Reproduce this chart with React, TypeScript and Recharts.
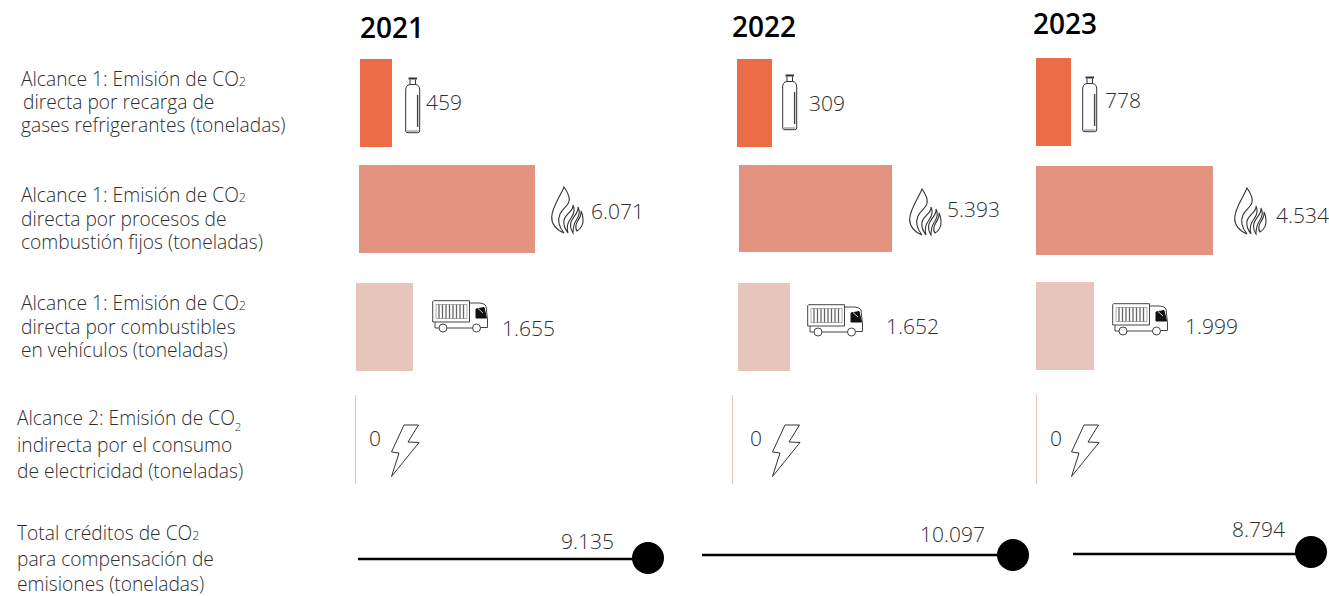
import { BarChart, Bar, LineChart, Line, XAxis, YAxis } from 'recharts';

const years = ['2021', '2022', '2023'];

// printed figures, tonnes
const refrigerantValues = [459, 309, 778];
const combustionValues = [6071, 5393, 4534];
const vehicleValues = [1655, 1652, 1999];
const electricityValues = [0, 0, 0];
const creditValues = [9135, 10097, 8794];

// The source infographic does not draw its bars in proportion to the printed
// figures (309 is longer than 459), so the lengths are read off the picture.
const refrigerantLengths = [32, 35, 35];
const combustionLengths = [176, 153, 177];
const vehicleLengths = [57, 52, 58];
const electricityLengths = [0, 0, 0];
const creditLengths = [290, 311, 238];

const FONT = '"Open Sans", sans-serif';
const TEXT = '#2e2e2e';
const LENGTH_DOMAIN = 340;

const rowColors = ['#eb6d48', '#e49381', '#e8c5bb', '#e8c5bb'];
const rowValues = [refrigerantValues, combustionValues, vehicleValues, electricityValues];
const rowLengths = [refrigerantLengths, combustionLengths, vehicleLengths, electricityLengths];

// hand placed layout, one entry per year
const titlePos = [[360, 27], [732, 26], [1033, 23]];
const barPos = [
  [[360, 59], [359, 165], [356, 283], [355, 395]],
  [[737, 59], [739, 165], [738, 283], [732, 395]],
  [[1036, 58], [1036, 166], [1036, 282], [1036, 394]],
];
const barHeights = [
  [88, 88, 88, 89],
  [88, 87, 88, 89],
  [88, 89, 88, 90],
];
const valuePos = [
  [[426, 102], [591, 211], [502, 328], [369, 438]],
  [[809, 103], [947, 209], [886, 326], [750, 438]],
  [[1105, 100], [1276, 215], [1185, 326], [1050, 438]],
];
const iconPos = [
  [[405, 77], [551, 187], [432, 300], [391, 424]],
  [[782, 74], [909, 189], [807, 304], [772, 424]],
  [[1082, 76], [1234, 188], [1112, 303], [1071, 424]],
];
const creditPos = [[358, 559], [702, 555], [1073, 554]];
const creditDotShift = [-1, 0, -2];
const creditLabelPos = [[614, 541], [985, 534], [1285, 529]];

const formatValue = (v: number) => String(v).replace(/\B(?=(\d{3})+$)/g, '.');

const CylinderIcon = () => (
  <svg width={16} height={58} style={{ display: 'block', overflow: 'visible' }}>
    <path d="M3.5 1.5H12" stroke="#333" strokeWidth={2} fill="none" />
    <path d="M5 2.5V8M10.5 2.5V8" stroke="#333" strokeWidth={1} fill="none" />
    <path
      d="M0.7 13Q0.7 8 5 7.5H10.5Q14.7 8 14.7 13V54Q14.7 55.7 12.5 55.7H3Q0.7 55.7 0.7 54Z"
      stroke="#333"
      strokeWidth={1}
      fill="#fff"
    />
    <path d="M12.6 18V50" stroke="#444" strokeWidth={1.4} />
    <path d="M2 54H13.5" stroke="#555" strokeWidth={0.8} />
  </svg>
);

const FlameIcon = () => (
  <svg width={33} height={47} fill="none" stroke="#333" strokeWidth={1.1} style={{ display: 'block', overflow: 'visible' }}>
    <path d="M13 0C9 10 1 20 0.7 30C0.5 38 6 43 13 46C8 40 6 34 9 27C12 20 20 18 18 10C17 6 15 3 13 0Z" />
    <path d="M22 18C23 24 15 26 13 33C12 38 14 42 17 46C15 40 17 35 20 31C23 27 24 22 22 18Z" />
    <path d="M27 20C28 26 22 29 20 35C19 39 20 43 22 46C22 41 23 36 26 32C28 29 29 24 27 20Z" />
    <path d="M30 24C31 30 26 33 25 38C24.5 41 25 43 26 44C30 42 32.5 37 32 32C32 29 31 26 30 24Z" />
  </svg>
);

const TruckIcon = () => (
  <svg width={57} height={33} fill="none" stroke="#444" strokeWidth={1} style={{ display: 'block', overflow: 'visible' }}>
    <path d="M1.5 0.7H37.5V22H0.7V1.5Z" />
    <path d="M4 4.5H35V18.5H4Z" strokeWidth={0.6} stroke="#777" />
    {[7, 10.5, 14, 17.5, 21, 24.5, 28, 31.5].map(x => (
      <path key={x} d={`M${x} 4.5V18.5`} strokeWidth={1.3} stroke="#666" />
    ))}
    <path d="M37.5 3H48Q53 3.5 54 6L55.5 20V27.5H49" />
    <path d="M44 9L52 7.5L54.5 18H44Z" fill="#111" stroke="#111" />
    <path d="M46 8.5L51 13" stroke="#fff" strokeWidth={0.8} />
    <path d="M3 22V28H7M15 28H40M49 28H40" />
    <circle cx={11} cy={28} r={4} fill="#fff" />
    <circle cx={44.5} cy={28} r={4} fill="#fff" />
  </svg>
);

const BoltIcon = () => (
  <svg width={29} height={54} fill="none" stroke="#333" strokeWidth={1} style={{ display: 'block', overflow: 'visible' }}>
    <path d="M13 1H27.5L17 18L28 18.5L0.5 52.5L8 29L0.5 28Z" strokeLinejoin="miter" />
  </svg>
);

const rowIcons = [CylinderIcon, FlameIcon, TruckIcon, BoltIcon];

const rowLabels = [
  { x: 21, top: 67, leading: 23, indent: 2, lines: ['Alcance 1: Emisión de CO', 'directa por recarga de', 'gases refrigerantes (toneladas)'], sub: 'small' },
  { x: 21, top: 183, leading: 23.5, indent: 0, lines: ['Alcance 1: Emisión de CO', 'directa por procesos de', 'combustión fijos (toneladas)'], sub: 'small' },
  { x: 21, top: 291, leading: 23.5, indent: 0, lines: ['Alcance 1: Emisión de CO', 'directa por combustibles', 'en vehículos (toneladas)'], sub: 'small' },
  { x: 17, top: 405, leading: 26.5, indent: 0, lines: ['Alcance 2: Emisión de CO', 'indirecta por el consumo', 'de electricidad (toneladas)'], sub: 'low' },
  { x: 17, top: 520, leading: 25.5, indent: 0, lines: ['Total créditos de CO', 'para compensación de', 'emisiones (toneladas)'], sub: 'small' },
];

const textAt = (x: number, cy: number, size: number, box: number): React.CSSProperties => ({
  position: 'absolute',
  left: x,
  top: cy - box / 2,
  height: box,
  lineHeight: `${box}px`,
  fontFamily: FONT,
  fontSize: size,
  whiteSpace: 'nowrap',
  color: TEXT,
});

function BarCell({ length, color, height }: { length: number; color: string; height: number }) {
  return (
    <BarChart
      width={LENGTH_DOMAIN}
      height={height}
      layout="vertical"
      data={[{ name: 'row', length }]}
      margin={{ top: 0, right: 0, bottom: 0, left: 0 }}
      barCategoryGap={0}
    >
      <XAxis type="number" domain={[0, LENGTH_DOMAIN]} hide />
      <YAxis type="category" dataKey="name" hide />
      <Bar dataKey="length" fill={color} minPointSize={1} isAnimationActive={false} />
    </BarChart>
  );
}

const CreditDot = (props: { cx?: number; cy?: number; index?: number; shift?: number }) => {
  const { cx, cy = 0, index, shift = 0 } = props;
  if (index !== 1) return <g key={index} />;
  return <circle key={index} cx={cx} cy={cy + shift} r={16} fill="#000" />;
};

function CreditCell({ length, shift }: { length: number; shift: number }) {
  return (
    <LineChart
      width={LENGTH_DOMAIN}
      height={40}
      data={[{ x: 0, y: 0 }, { x: length, y: 0 }]}
      margin={{ top: 0, right: 0, bottom: 0, left: 0 }}
    >
      <XAxis type="number" dataKey="x" domain={[0, LENGTH_DOMAIN]} hide />
      <YAxis type="number" domain={[-1, 1]} hide />
      <Line dataKey="y" stroke="#000" strokeWidth={2.5} dot={<CreditDot shift={shift} />} isAnimationActive={false} />
    </LineChart>
  );
}

export default function App() {
  return (
    <div style={{ position: 'absolute', left: 0, top: 0, width: 1329, height: 596, background: '#fff', overflow: 'hidden' }}>
      {rowLabels.map((row, r) => (
        <div
          key={r}
          style={{
            position: 'absolute',
            left: row.x,
            top: row.top,
            fontFamily: FONT,
            fontSize: 19.2,
            fontWeight: 300,
            lineHeight: `${row.leading}px`,
            whiteSpace: 'nowrap',
            color: TEXT,
          }}
        >
          {row.lines[0]}
          <span style={row.sub === 'low' ? { fontSize: 11.5, position: 'relative', top: 6, lineHeight: 0 } : { fontSize: 12.5, lineHeight: 0 }}>2</span>
          <br />
          <span style={{ marginLeft: row.indent }}>{row.lines[1]}</span>
          <br />
          {row.lines[2]}
        </div>
      ))}

      {years.map((year, y) => (
        <div key={year}>
          <div style={{ ...textAt(titlePos[y][0], titlePos[y][1], 28, 32), fontWeight: 600, color: '#000' }}>{year}</div>

          {rowColors.map((color, r) => {
            const Icon = rowIcons[r];
            return (
              <div key={r}>
                <div style={{ position: 'absolute', left: barPos[y][r][0], top: barPos[y][r][1] }}>
                  <BarCell length={rowLengths[r][y]} color={color} height={barHeights[y][r]} />
                </div>
                <div style={{ position: 'absolute', left: iconPos[y][r][0], top: iconPos[y][r][1] }}>
                  <Icon />
                </div>
                <div style={{ ...textAt(valuePos[y][r][0], valuePos[y][r][1], 21, 26), fontWeight: 300 }}>
                  {formatValue(rowValues[r][y])}
                </div>
              </div>
            );
          })}

          <div style={{ position: 'absolute', left: creditPos[y][0], top: creditPos[y][1] - 20 }}>
            <CreditCell length={creditLengths[y]} shift={creditDotShift[y]} />
          </div>
          <div style={{ ...textAt(creditLabelPos[y][0], creditLabelPos[y][1], 21, 26), fontWeight: 300, transform: 'translateX(-100%)' }}>
            {formatValue(creditValues[y])}
          </div>
        </div>
      ))}
    </div>
  );
}
